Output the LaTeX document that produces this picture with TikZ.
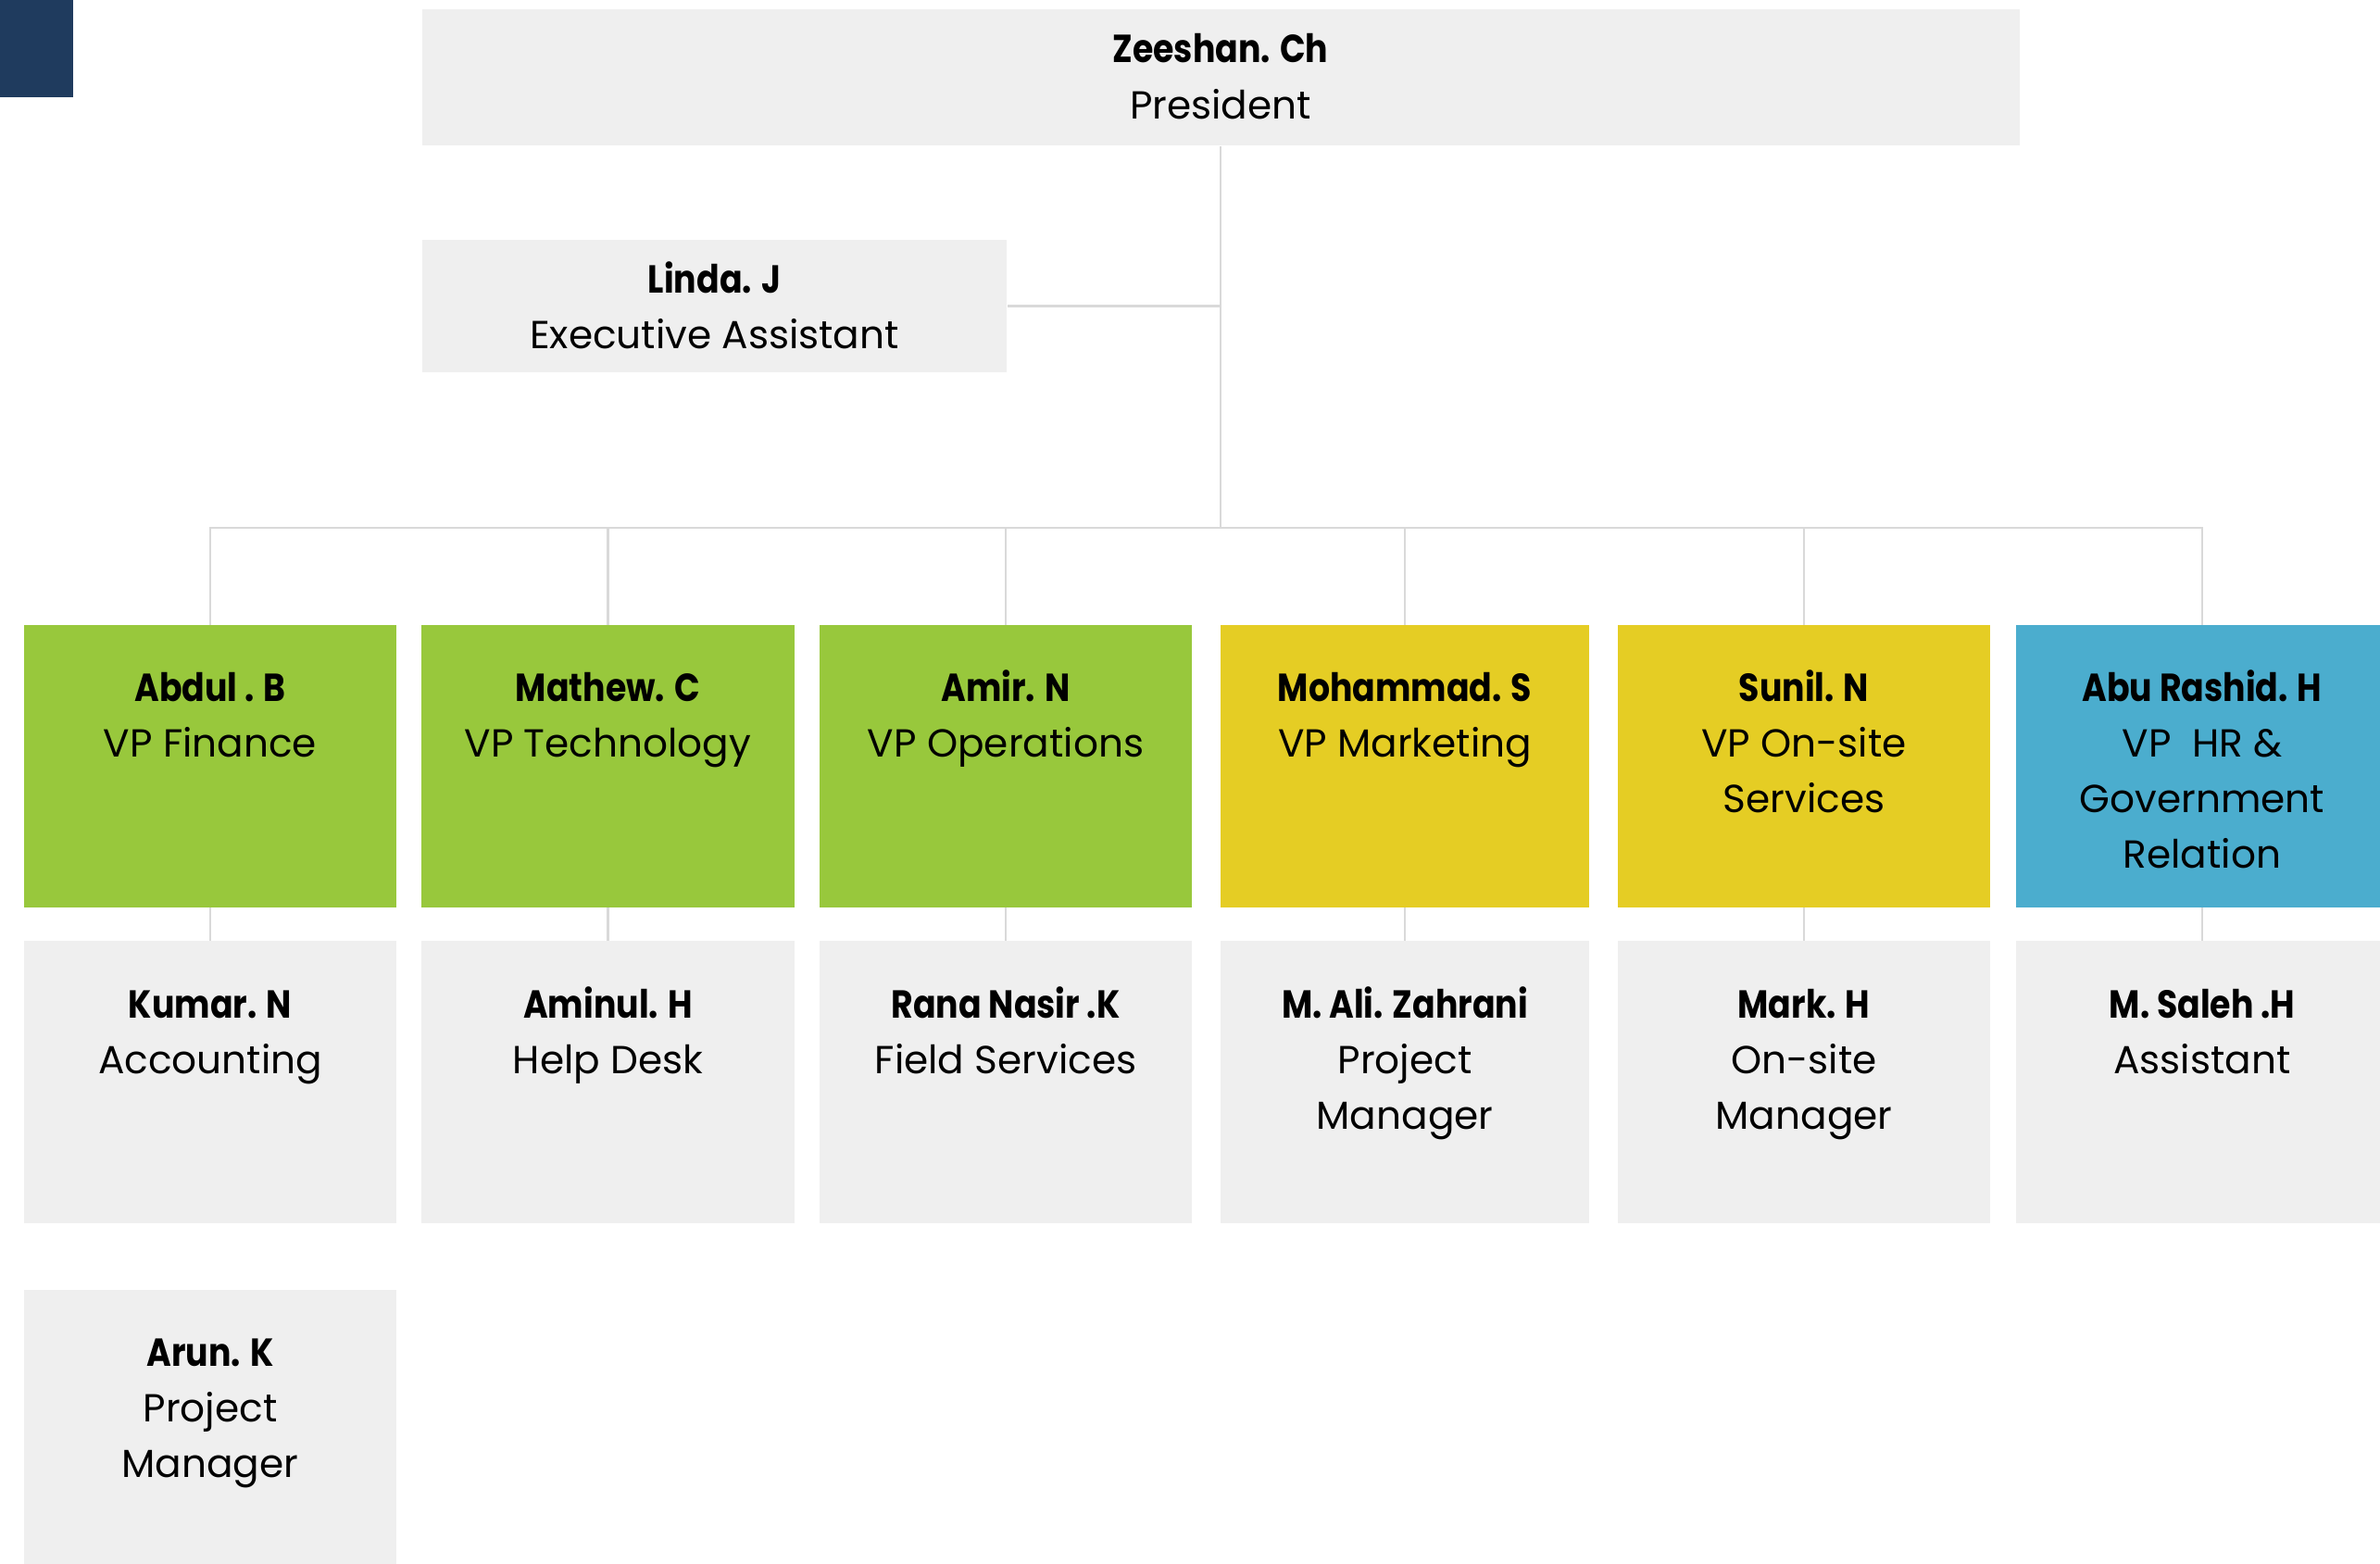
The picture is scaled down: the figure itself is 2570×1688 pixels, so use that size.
\documentclass[tikz,border=0pt]{standalone}
\usepackage{fontspec}
\setmainfont{Poppins}
\newfontfamily\namefont{Poppins}[FakeStretch=0.86]
\definecolor{boxgray}{HTML}{EFEFEF}
\definecolor{vpgreen}{HTML}{98C83C}
\definecolor{vpyellow}{HTML}{E5CD24}
\definecolor{vpblue}{HTML}{4BADCE}
\definecolor{navy}{HTML}{1F3B5E}
\definecolor{linkgray}{HTML}{D9D9D9}
\newcommand{\boxtext}[2]{\parbox[t]{3.95cm}{\centering\fontsize{12}{17.1}\selectfont{\namefont\bfseries #1}\\#2}}
\begin{document}
\begin{tikzpicture}[x=0.01cm,y=-0.01cm,
  card/.style={inner sep=0pt, outer sep=0pt, minimum width=4.02cm, minimum height=3.05cm},
  graycard/.style={card, fill=boxgray},
  greencard/.style={card, fill=vpgreen},
  yellowcard/.style={card, fill=vpyellow},
  bluecard/.style={card, fill=vpblue},
  label/.style={anchor=base, inner sep=0pt, align=center},
  link/.style={draw=linkgray, line width=0.8pt}]
\useasboundingbox (0,0) rectangle (2570,1688);
\clip (0,0) rectangle (2570,1688);
% corner square
\node[fill=navy, inner sep=0pt, minimum width=0.79cm, minimum height=1.05cm] (corner) at (39.5,52.5) {};
% president
\node[fill=boxgray, inner sep=0pt, minimum width=17.24cm, minimum height=1.47cm] (pres) at (1318,83.5) {};
\node[label] (prest) at (1318,68) {\boxtext{Zeeshan. Ch}{President}};
% executive assistant
\node[fill=boxgray, inner sep=0pt, minimum width=6.31cm, minimum height=1.43cm] (linda) at (771.5,330.5) {};
\node[label] (lindat) at (771.5,316) {\parbox[t]{6cm}{\centering\fontsize{12}{17.1}\selectfont{\namefont\bfseries Linda. J}\\Executive Assistant}};
% VP row
\node[greencard] (vp1) at (227,827.5) {};
\node[greencard] (vp2) at (656.5,827.5) {};
\node[greencard] (vp3) at (1086,827.5) {};
\node[yellowcard, minimum width=3.98cm] (vp4) at (1517,827.5) {};
\node[yellowcard] (vp5) at (1948,827.5) {};
\node[bluecard] (vp6) at (2378,827.5) {};
\node[label] (vp1t) at (227,757) {\boxtext{Abdul . B}{VP Finance}};
\node[label] (vp2t) at (656.5,757) {\boxtext{Mathew. C}{VP Technology}};
\node[label] (vp3t) at (1086,757) {\boxtext{Amir. N}{VP Operations}};
\node[label] (vp4t) at (1517,757) {\boxtext{Mohammad. S}{VP Marketing}};
\node[label] (vp5t) at (1948,757) {\boxtext{Sunil. N}{VP On-site\\Services}};
\node[label] (vp6t) at (2378,757) {\boxtext{Abu Rashid. H}{VP~~HR \&\\Government\\Relation}};
% second row
\node[graycard] (r1) at (227,1168.5) {};
\node[graycard] (r2) at (656.5,1168.5) {};
\node[graycard] (r3) at (1086,1168.5) {};
\node[graycard, minimum width=3.98cm] (r4) at (1517,1168.5) {};
\node[graycard] (r5) at (1948,1168.5) {};
\node[graycard] (r6) at (2378,1168.5) {};
\node[label] (r1t) at (227,1099) {\boxtext{Kumar. N}{Accounting}};
\node[label] (r2t) at (656.5,1099) {\boxtext{Aminul. H}{Help Desk}};
\node[label] (r3t) at (1086,1099) {\boxtext{Rana Nasir .K}{Field Services}};
\node[label] (r4t) at (1517,1099) {\boxtext{M. Ali. Zahrani}{Project\\Manager}};
\node[label] (r5t) at (1948,1099) {\boxtext{Mark. H}{On-site\\Manager}};
\node[label] (r6t) at (2378,1099) {\boxtext{M. Saleh .H}{Assistant}};
% third row
\node[graycard] (r7) at (227,1545.5) {};
\node[label] (r7t) at (227,1475) {\boxtext{Arun. K}{Project\\Manager}};
% connectors
\coordinate (bus) at (1318,570);
\draw[link] (pres.south) -- (bus);
\draw[link] (linda.east) -- (linda.east -| pres.south);
\foreach \i in {1,...,6} {
  \draw[link] (bus) -| (vp\i.north);
  \draw[link] (vp\i.south) -- (r\i.north);
}
\end{tikzpicture}
\end{document}
